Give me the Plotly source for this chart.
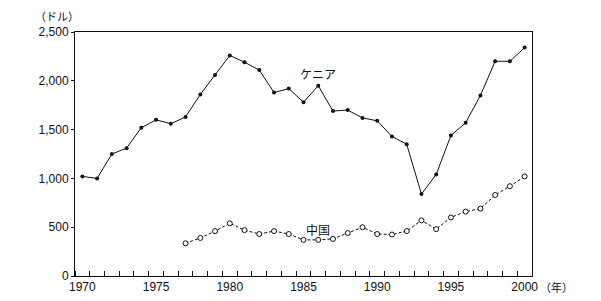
import plotly.graph_objects as go

years_kenya = list(range(1970, 2001))
kenya = [1020, 1000, 1250, 1310, 1520, 1600, 1560, 1630, 1860, 2060,
         2260, 2190, 2110, 1880, 1920, 1780, 1950, 1690, 1700, 1620,
         1590, 1430, 1350, 840, 1040, 1440, 1570, 1850, 2200, 2200, 2340]
years_china = list(range(1977, 2001))
china = [335, 390, 460, 540, 470, 430, 460, 430, 370, 370, 380, 440,
         500, 430, 425, 460, 570, 480, 600, 660, 690, 830, 920, 1020]
x_ticks = [1970, 1975, 1980, 1985, 1990, 1995, 2000]
y_ticks = [0, 500, 1000, 1500, 2000, 2500]
y_tick_text = ["0", "500", "1,000", "1,500", "2,000", "2,500"]

FONT = "Liberation Sans, Arial, Noto Sans CJK JP, sans-serif"
JP = "Noto Sans CJK JP, sans-serif"

W, H = 601, 301
L, R, T, B = 75, 69, 32, 25
pw, ph = W - L - R, H - T - B


def px_to_paper(px, py):
    return (px - L) / pw, (H - B - py) / ph


fig = go.Figure()
fig.add_trace(go.Scatter(
    x=years_kenya, y=kenya, mode="lines+markers",
    line=dict(color="#111", width=1),
    marker=dict(color="#111", size=4, symbol="circle"),
    showlegend=False, cliponaxis=False))
fig.add_trace(go.Scatter(
    x=years_china, y=china, mode="lines+markers",
    line=dict(color="#111", width=1, dash="3px,2px"),
    marker=dict(color="white", size=5, symbol="circle",
                line=dict(color="#111", width=1)),
    showlegend=False, cliponaxis=False))

fig.add_annotation(x=1986.0, y=2070, text="ケニア", showarrow=False,
                   font=dict(family=JP, size=12, color="#111"))
fig.add_annotation(x=1986.0, y=472, text="中国", showarrow=False,
                   font=dict(family=JP, size=12, color="#111"))
ax, ay = px_to_paper(57, 16)
fig.add_annotation(x=ax, y=ay, xref="paper", yref="paper", text="（ドル）",
                   xanchor="center", yanchor="middle",
                   showarrow=False, font=dict(family=JP, size=11, color="#111"))
ax, ay = px_to_paper(556, 287)
fig.add_annotation(x=ax, y=ay, xref="paper", yref="paper", text="（年）",
                   xanchor="center", yanchor="middle",
                   showarrow=False, font=dict(family=JP, size=11, color="#111"))

fig.update_layout(
    width=W, height=H,
    margin=dict(l=L, r=R, t=T, b=B),
    paper_bgcolor="white", plot_bgcolor="white",
    font=dict(family=FONT, size=12, color="#111"),
    xaxis=dict(range=[1969.5, 2000.5], tickvals=x_ticks,
               ticktext=[str(v) for v in x_ticks], automargin=False,
               ticks="", showgrid=False, zeroline=False,
               showline=True, linecolor="#111", linewidth=1, mirror=True,
               minor=dict(tick0=1970.5, dtick=1, ticks="inside",
                          ticklen=5, tickcolor="#111", showgrid=False),
               tickfont=dict(size=12)),
    yaxis=dict(range=[0, 2500], tickvals=y_ticks, ticktext=y_tick_text,
               automargin=False,
               ticks="outside", ticklen=3, tickcolor="#111",
               showgrid=False, zeroline=False,
               showline=True, linecolor="#111", linewidth=1, mirror=True,
               tickfont=dict(size=12)),
)

fig.write_html("out.html")
